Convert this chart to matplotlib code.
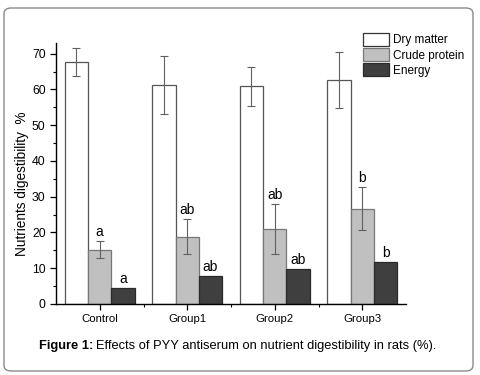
import matplotlib
matplotlib.use("Agg")
import matplotlib.pyplot as plt
import numpy as np
from matplotlib.patches import FancyBboxPatch, Patch
from matplotlib.ticker import MultipleLocator, FixedLocator

plt.rcParams['font.family'] = ['Liberation Sans', 'DejaVu Sans']

groups = ["Control", "Group1", "Group2", "Group3"]
series = ["Dry matter", "Crude protein", "Energy"]
dry_matter = [67.6, 61.3, 60.9, 62.6]
dry_matter_err = [3.9, 8.2, 5.5, 7.9]
crude_protein = [15.2, 18.8, 20.9, 26.6]
crude_protein_err = [2.4, 4.9, 7.0, 6.0]
energy = [4.5, 7.9, 9.8, 11.7]
cp_letters = ["a", "ab", "ab", "b"]
en_letters = ["a", "ab", "ab", "b"]

fig = plt.figure(figsize=(4.8, 3.75), dpi=100)
# outer frame
frame = FancyBboxPatch((4/480, 4/375), 469/480, 363/375,
                       boxstyle="round,pad=0,rounding_size=0.015",
                       transform=fig.transFigure, facecolor="none",
                       edgecolor="#8a8a8a", linewidth=1.0, zorder=-1)
fig.patches.append(frame)

ax = fig.add_axes([56/480, 71/375, 350/480, 261/375])
ax.patch.set_alpha(0)

x = np.arange(len(groups))
w = 0.266
errkw = dict(ecolor="#606060", elinewidth=0.8, capsize=3.2, capthick=0.8)
ax.bar(x - w, dry_matter, w, yerr=dry_matter_err, color="white",
       edgecolor="#555555", linewidth=0.9, error_kw=errkw, label=series[0])
ax.bar(x, crude_protein, w, yerr=crude_protein_err, color="#c0c0c0",
       edgecolor="#777777", linewidth=0.9, error_kw=errkw, label=series[1])
ax.bar(x + w, energy, w, color="#3f3f3f", edgecolor="#2a2a2a",
       linewidth=0.9, label=series[2])

for i in range(len(groups)):
    ax.text(x[i], crude_protein[i] + crude_protein_err[i] + 0.6, cp_letters[i],
            ha="center", va="bottom", fontsize=10)
    ax.text(x[i] + w, energy[i] + 0.6, en_letters[i],
            ha="center", va="bottom", fontsize=10)

ax.set_xlim(-0.5, 3.5)
ax.set_ylim(0, 73)
ax.spines['top'].set_visible(False)
ax.spines['right'].set_visible(False)
ax.spines['left'].set_linewidth(1.0)
ax.spines['bottom'].set_linewidth(1.0)
ax.set_xticks(x)
ax.set_xticklabels(groups, fontsize=8)
ax.xaxis.set_minor_locator(FixedLocator([0.5, 1.5, 2.5]))
ax.yaxis.set_major_locator(MultipleLocator(10))
ax.yaxis.set_minor_locator(MultipleLocator(5))
ax.tick_params(axis='both', which='major', direction='out', length=4, width=0.9)
ax.tick_params(axis='y', which='major', labelsize=8.8)
ax.tick_params(axis='x', which='major', labelsize=8.2)
ax.tick_params(axis='both', which='minor', direction='out', length=2, width=0.8)
ax.set_ylabel("Nutrients digestibility  %", fontsize=9.8)
ax.yaxis.set_label_coords(-0.078, 0.46)

handles = [Patch(facecolor="white", edgecolor="#333333", linewidth=0.9),
           Patch(facecolor="#c0c0c0", edgecolor="#777777", linewidth=0.9),
           Patch(facecolor="#3f3f3f", edgecolor="#2a2a2a", linewidth=0.9)]
fig.legend(handles, series, loc="upper left", bbox_to_anchor=(363/480, 1 - 33/375),
           frameon=False, fontsize=8.5, handlelength=2.2, handleheight=1.3,
           handletextpad=0.35, labelspacing=0.15, borderaxespad=0, borderpad=0)

# caption
fig.canvas.draw()
r = fig.canvas.get_renderer()
t1 = fig.text(39/480, 1 - 346/375, "Figure 1:", fontsize=9.3, fontweight="bold",
              va="center", ha="left")
bb = t1.get_window_extent(renderer=r)
fig.text(bb.x1 / 480 + 3/480, 1 - 346/375,
         "Effects of PYY antiserum on nutrient digestibility in rats (%).",
         fontsize=9.3, va="center", ha="left")

fig.savefig("out.png", dpi=100)
